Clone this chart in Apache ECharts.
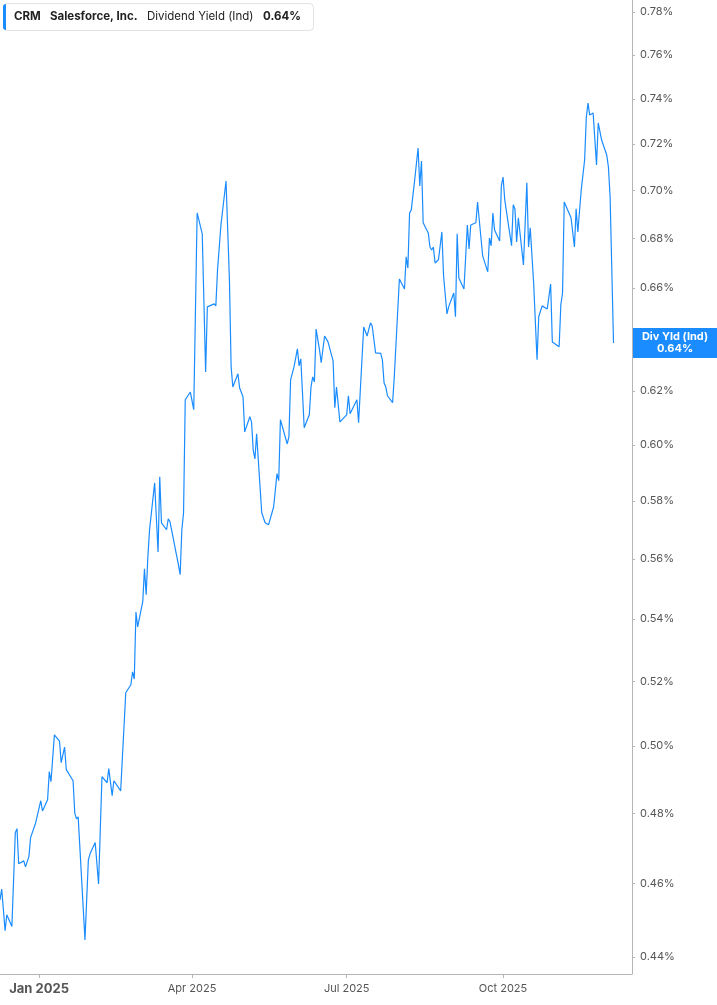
<!DOCTYPE html>
<html><head><meta charset="utf-8">
<script src="https://cdn.jsdelivr.net/npm/echarts@6/dist/echarts.min.js"></script>
<style>html,body{margin:0;padding:0;background:#fff}#c{width:717px;height:1005px}</style>
</head><body><div id="c"></div><script>
const ticker = 'CRM';
const company = 'Salesforce, Inc.';
const metric = 'Dividend Yield (Ind)';
const shortMetric = 'Div Yld (Ind)';

const dates = [
'2024-12-09','2024-12-10','2024-12-12','2024-12-13','2024-12-16','2024-12-18','2024-12-19','2024-12-20','2024-12-23','2024-12-24',
'2024-12-26','2024-12-27','2024-12-30','2025-01-02','2025-01-03','2025-01-06','2025-01-07','2025-01-08','2025-01-10','2025-01-13',
'2025-01-14','2025-01-16','2025-01-17','2025-01-21','2025-01-22','2025-01-23','2025-01-24','2025-01-28','2025-01-30','2025-01-31',
'2025-02-03','2025-02-05','2025-02-07','2025-02-10','2025-02-11','2025-02-13','2025-02-14','2025-02-18','2025-02-21','2025-02-24',
'2025-02-25','2025-02-26','2025-02-27','2025-02-28','2025-03-03','2025-03-04','2025-03-05','2025-03-06','2025-03-07','2025-03-10',
'2025-03-12','2025-03-13','2025-03-14','2025-03-17','2025-03-18','2025-03-19','2025-03-20','2025-03-24','2025-03-25','2025-03-26',
'2025-03-27','2025-03-28','2025-03-31','2025-04-02','2025-04-04','2025-04-07','2025-04-08','2025-04-09','2025-04-10','2025-04-14',
'2025-04-15','2025-04-16','2025-04-18','2025-04-21','2025-04-23','2025-04-24','2025-04-25','2025-04-28','2025-04-29','2025-05-01',
'2025-05-02','2025-05-05','2025-05-06','2025-05-07','2025-05-08','2025-05-09','2025-05-12','2025-05-14','2025-05-16','2025-05-19',
'2025-05-20','2025-05-21','2025-05-22','2025-05-23','2025-05-27','2025-05-28','2025-05-29','2025-05-31','2025-06-02','2025-06-03',
'2025-06-04','2025-06-06','2025-06-09','2025-06-10','2025-06-11','2025-06-12','2025-06-13','2025-06-15','2025-06-16','2025-06-18',
'2025-06-20','2025-06-23','2025-06-24','2025-06-25','2025-06-27','2025-07-01','2025-07-02','2025-07-03','2025-07-07','2025-07-08',
'2025-07-11','2025-07-13','2025-07-15','2025-07-16','2025-07-18','2025-07-21','2025-07-22','2025-07-23','2025-07-24','2025-07-25',
'2025-07-28','2025-07-29','2025-08-01','2025-08-04','2025-08-05','2025-08-06','2025-08-07','2025-08-08','2025-08-10','2025-08-12',
'2025-08-13','2025-08-14','2025-08-15','2025-08-18','2025-08-19','2025-08-20','2025-08-21','2025-08-22','2025-08-24','2025-08-26',
'2025-08-27','2025-08-29','2025-08-30','2025-09-02','2025-09-03','2025-09-04','2025-09-05','2025-09-08','2025-09-09','2025-09-10',
'2025-09-11','2025-09-12','2025-09-15','2025-09-16','2025-09-19','2025-09-22','2025-09-23','2025-09-24','2025-09-25','2025-09-26',
'2025-09-29','2025-09-30','2025-10-01','2025-10-02','2025-10-06','2025-10-07','2025-10-08','2025-10-09','2025-10-10','2025-10-13',
'2025-10-15','2025-10-16','2025-10-17','2025-10-19','2025-10-21','2025-10-22','2025-10-24','2025-10-27','2025-10-29','2025-10-30',
'2025-11-03','2025-11-04','2025-11-05','2025-11-06','2025-11-10','2025-11-12','2025-11-13','2025-11-14','2025-11-16','2025-11-18',
'2025-11-19','2025-11-20','2025-11-21','2025-11-23','2025-11-25','2025-11-26','2025-11-28','2025-12-01','2025-12-02','2025-12-03',
'2025-12-05'
];

const values = [
0.4555,0.4585,0.4471,0.4514,0.4482,0.4744,0.4756,0.4656,0.4664,0.4647,
0.4676,0.4730,0.4773,0.4837,0.4807,0.4840,0.4923,0.4893,0.5034,0.5015,
0.4950,0.4997,0.4929,0.4896,0.4801,0.4784,0.4790,0.4446,0.4667,0.4684,
0.4716,0.4599,0.4908,0.4890,0.4932,0.4852,0.4896,0.4866,0.5164,0.5189,
0.5230,0.5207,0.5423,0.5374,0.5457,0.5567,0.5480,0.5607,0.5700,0.5864,
0.5624,0.5886,0.5724,0.5700,0.5738,0.5728,0.5725,0.5580,0.5547,0.5700,
0.5759,0.6167,0.6196,0.6130,0.6906,0.6819,0.6815,0.6272,0.6524,0.6536,
0.6528,0.6672,0.6856,0.7041,0.6631,0.6291,0.6215,0.6265,0.6211,0.6178,
0.6048,0.6104,0.6085,0.5982,0.5950,0.6041,0.5759,0.5724,0.5717,0.5779,
0.5776,0.5897,0.5872,0.6093,0.6004,0.6030,0.6242,0.6291,0.6360,0.6295,
0.6322,0.6063,0.6111,0.6215,0.6253,0.6234,0.6437,0.6356,0.6307,0.6410,
0.6387,0.6314,0.6137,0.6215,0.6085,0.6111,0.6182,0.6115,0.6167,0.6082,
0.6445,0.6410,0.6461,0.6449,0.6345,0.6343,0.6318,0.6230,0.6215,0.6182,
0.6156,0.6253,0.6635,0.6595,0.6725,0.6680,0.6906,0.6919,0.7045,0.7183,
0.7020,0.7127,0.6865,0.6823,0.6765,0.6753,0.6765,0.6700,0.6713,0.6827,
0.6648,0.6496,0.6524,0.6579,0.6485,0.6819,0.6639,0.6595,0.6599,0.6856,
0.6757,0.6856,0.6865,0.6952,0.6729,0.6664,0.6802,0.6770,0.6906,0.6835,
0.6790,0.7020,0.7058,0.6961,0.6770,0.6940,0.6923,0.6786,0.6886,0.6692,
0.7033,0.6765,0.6844,0.6619,0.6318,0.6485,0.6528,0.6516,0.6615,0.6387,
0.6368,0.6532,0.6579,0.6952,0.6886,0.6765,0.6923,0.6827,0.7003,0.7131,
0.7319,0.7381,0.7328,0.7337,0.7110,0.7293,0.7218,0.7153,0.7101,0.6973,
0.6383
];

const yTicks = [0.44,0.46,0.48,0.50,0.52,0.54,0.56,0.58,0.60,0.62,0.64,0.66,0.68,0.70,0.72,0.74,0.76,0.78];
const xTicks = ['2025-01-01','2025-04-01','2025-07-01','2025-10-01'];
const xTickLabels = ['Jan 2025','Apr 2025','Jul 2025','Oct 2025'];
const xRange = ['2024-12-09T00:00:00Z','2025-12-15T21:00:00Z'];

const blue = '#1a8cff';
const FONT = 'Inter, Roboto, sans-serif';
const lastVal = values[values.length - 1];
const lastTxt = lastVal.toFixed(2) + '%';
const toTime = s => Date.parse(s.length === 10 ? s + 'T00:00:00Z' : s);
const xTickTimes = xTicks.map(toTime);

const chart = echarts.init(document.getElementById('c'), null, {renderer: 'canvas'});

chart.setOption({
  animation: false,
  backgroundColor: '#ffffff',
  grid: {left: 0, right: 85, top: 0, bottom: 31, containLabel: false},
  xAxis: {
    type: 'value',
    min: toTime(xRange[0]),
    max: toTime(xRange[1]),
    splitLine: {show: false},
    axisLine: {show: true, lineStyle: {color: '#b5b5b5', width: 1}},
    axisTick: {show: true, customValues: xTickTimes, length: 4, lineStyle: {color: '#b5b5b5'}},
    axisLabel: {
      customValues: xTickTimes,
      margin: 9,
      fontFamily: FONT,
      formatter: function (v) {
        let idx = 0, best = Infinity;
        xTickTimes.forEach((tt, i) => { const d = Math.abs(tt - v); if (d < best) { best = d; idx = i; } });
        return idx === 0 ? '{b|' + xTickLabels[idx] + '}' : '{n|' + xTickLabels[idx] + '}';
      },
      rich: {
        b: {fontSize: 13, fontWeight: 'bold', color: '#555', fontFamily: FONT},
        n: {fontSize: 11, color: '#555', fontFamily: FONT}
      }
    }
  },
  yAxis: {
    type: 'log',
    logBase: 10,
    position: 'right',
    min: 0.4355,
    max: 0.7857,
    splitLine: {show: false},
    axisLine: {show: true, lineStyle: {color: '#b5b5b5', width: 1}},
    axisTick: {show: true, customValues: yTicks, length: 3, lineStyle: {color: '#b5b5b5'}},
    axisLabel: {
      customValues: yTicks,
      margin: 8,
      fontSize: 11,
      color: '#555',
      fontFamily: FONT,
      formatter: v => Number(v).toFixed(2) + '%'
    }
  },
  series: [{
    type: 'line',
    data: dates.map((d, i) => [toTime(d), values[i]]),
    showSymbol: false,
    symbol: 'none',
    lineStyle: {color: blue, width: 1.2},
    itemStyle: {color: blue}
  }]
});

const py = chart.convertToPixel({yAxisIndex: 0}, lastVal);
chart.setOption({
  graphic: [
    {type: 'rect', shape: {x: 3.5, y: 3.5, width: 310, height: 27, r: 4}, style: {fill: '#fff', stroke: '#e2e2e2', lineWidth: 1}, z: 10},
    {type: 'rect', shape: {x: 3, y: 4, width: 3, height: 26, r: [3, 0, 0, 3]}, style: {fill: blue}, z: 11},
    {type: 'text', x: 14, y: 17, style: {text: ticker, fontSize: 11.5, fontWeight: 'bold', fill: '#222', fontFamily: FONT, verticalAlign: 'middle'}, z: 11},
    {type: 'text', x: 50, y: 17, style: {text: company, fontSize: 11.5, fontWeight: 'bold', fill: '#222', fontFamily: FONT, verticalAlign: 'middle'}, z: 11},
    {type: 'text', x: 147, y: 17, style: {text: metric, fontSize: 11.5, fill: '#222', fontFamily: FONT, verticalAlign: 'middle'}, z: 11},
    {type: 'text', x: 263, y: 17, style: {text: lastTxt, fontSize: 11.5, fontWeight: 'bold', fill: '#222', fontFamily: FONT, verticalAlign: 'middle'}, z: 11},
    {type: 'rect', shape: {x: 633, y: py - 15, width: 84, height: 30}, style: {fill: blue}, z: 10},
    {type: 'text', x: 675, y: py, style: {text: shortMetric + '\n' + lastTxt, fontSize: 11, fontWeight: 'bold', fill: '#fff', fontFamily: FONT, align: 'center', verticalAlign: 'middle', lineHeight: 12}, z: 11}
  ]
});
</script></body></html>
